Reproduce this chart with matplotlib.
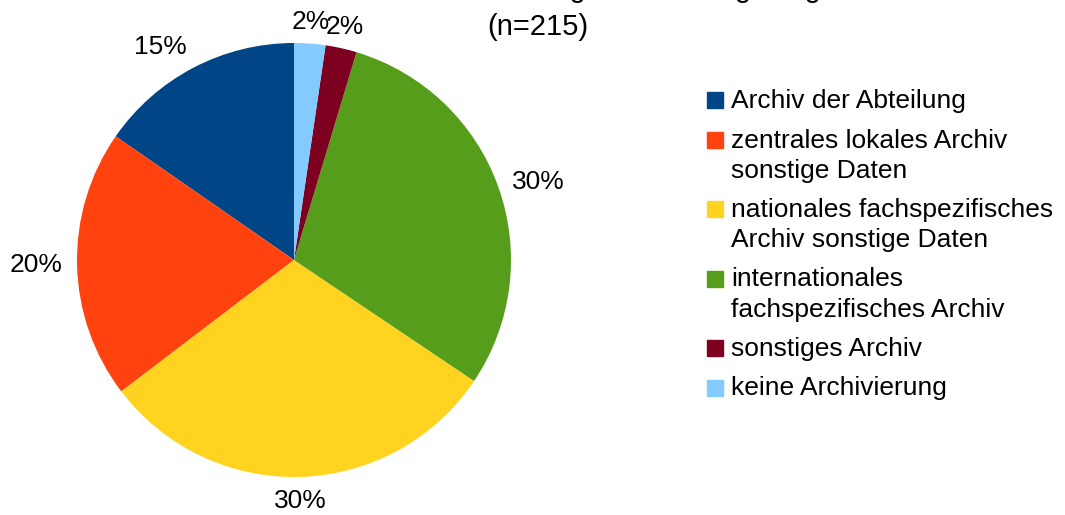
import numpy as np
import matplotlib.pyplot as plt
from matplotlib.patches import Rectangle

plt.rcParams['font.family'] = ['Liberation Sans', 'DejaVu Sans']

# answers (n=215), counterclockwise from the top
categories = [
    "Archiv der Abteilung",
    "zentrales lokales Archiv\nsonstige Daten",
    "nationales fachspezifisches\nArchiv sonstige Daten",
    "internationales\nfachspezifisches Archiv",
    "sonstiges Archiv",
    "keine Archivierung",
]
counts = [33, 43, 65, 64, 5, 5]
colors = ["#004586", "#ff420e", "#ffd320", "#579d1c", "#7e0021", "#83caff"]

W, H = 1065, 515
FS = 19
fig = plt.figure(figsize=(W / 100, H / 100), dpi=100)

# pie centre and radius in pixels
cx, cy, r = 294, 260, 217
ax = fig.add_axes([(cx - r) / W, 1 - (cy + r) / H, 2 * r / W, 2 * r / H])
wedges, _, autotexts = ax.pie(counts, colors=colors, startangle=90, counterclock=True,
                              radius=1, autopct=lambda p: f"{p:.0f}%",
                              textprops={'fontsize': FS, 'color': 'black'})
ax.set_xlim(-1, 1)
ax.set_ylim(-1, 1)
ax.set_aspect('equal')
ax.axis('off')

# percent labels anchored just outside the rim, aligned by quadrant
for w, t in zip(wedges, autotexts):
    a = np.deg2rad((w.theta1 + w.theta2) / 2)
    c, s = np.cos(a), np.sin(a)
    ha = 'left' if c > 0.3 else ('right' if c < -0.3 else 'center')
    va = 'baseline' if s > 0.4 else ('top' if s < -0.4 else 'center')
    gap = 12 if va == 'top' else 15
    d = (r + gap) / r
    t.set_position((d * c, d * s))
    t.set_ha(ha)
    t.set_va(va)

# title, first line cut off at the top edge
fig.text(539 / W, 1 + 3 / H, "Wo archivieren Sie sonstige Daten langfristig?",
         ha='center', va='baseline', fontsize=21)
fig.text(538 / W, 1 - 35 / H, "(n=215)", ha='center', va='baseline', fontsize=21)

# legend, square aligned with the first line of each entry
y = 100
for label, col in zip(categories, colors):
    fig.patches.append(Rectangle((707 / W, 1 - (y + 8) / H), 16 / W, 16 / H,
                                 color=col, transform=fig.transFigure))
    for i, line in enumerate(label.split("\n")):
        fig.text(731 / W, 1 - (y + 8 + 30 * i) / H, line, ha='left',
                 va='baseline', fontsize=FS)
    y += 30 * label.count("\n") + 39.5

fig.savefig("out.png", dpi=100)
